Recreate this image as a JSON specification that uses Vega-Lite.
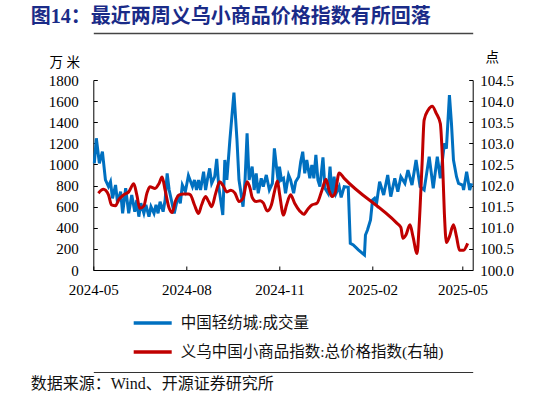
{
  "$schema": "https://vega.github.io/schema/vega-lite/v6.json",
  "width": 379.4,
  "height": 190,
  "autosize": {"type": "none"},
  "padding": {"left": 93.3, "top": 80, "right": 73.3, "bottom": 138},
  "background": "white",
  "config": {
    "view": {"stroke": null},
    "font": "Liberation Serif, Noto Sans CJK SC",
    "axis": {"domainColor": "#000", "tickColor": "#000", "labelColor": "#000", "grid": false, "labelFont": "Liberation Serif", "labelFontSize": 15, "domainWidth": 1, "tickWidth": 1, "titleColor": "#000"},
    "legend": {"labelColor": "#111", "labelFont": "Liberation Serif, Noto Sans CJK SC", "labelFontSize": 15.5, "labelLimit": 0}
  },
  "datasets": {
    "blue": [
      {"date": "2024-05-02", "v": 1011}, {"date": "2024-05-04", "v": 1248}, {"date": "2024-05-07", "v": 1010}, {"date": "2024-05-10", "v": 1121},
      {"date": "2024-05-13", "v": 853}, {"date": "2024-05-16", "v": 790}, {"date": "2024-05-18", "v": 836}, {"date": "2024-05-20", "v": 679},
      {"date": "2024-05-23", "v": 805}, {"date": "2024-05-25", "v": 635}, {"date": "2024-05-28", "v": 742}, {"date": "2024-05-30", "v": 537},
      {"date": "2024-06-02", "v": 774}, {"date": "2024-06-05", "v": 537}, {"date": "2024-06-08", "v": 710}, {"date": "2024-06-11", "v": 553},
      {"date": "2024-06-13", "v": 663}, {"date": "2024-06-15", "v": 505}, {"date": "2024-06-17", "v": 632}, {"date": "2024-06-20", "v": 537},
      {"date": "2024-06-22", "v": 616}, {"date": "2024-06-25", "v": 505}, {"date": "2024-06-27", "v": 600}, {"date": "2024-06-30", "v": 537},
      {"date": "2024-07-02", "v": 616}, {"date": "2024-07-04", "v": 537}, {"date": "2024-07-06", "v": 647}, {"date": "2024-07-09", "v": 553},
      {"date": "2024-07-11", "v": 663}, {"date": "2024-07-13", "v": 916}, {"date": "2024-07-15", "v": 758}, {"date": "2024-07-20", "v": 537},
      {"date": "2024-07-24", "v": 710}, {"date": "2024-07-26", "v": 632}, {"date": "2024-07-28", "v": 805}, {"date": "2024-07-31", "v": 742},
      {"date": "2024-08-03", "v": 895}, {"date": "2024-08-07", "v": 790}, {"date": "2024-08-09", "v": 853}, {"date": "2024-08-11", "v": 758},
      {"date": "2024-08-13", "v": 853}, {"date": "2024-08-15", "v": 758}, {"date": "2024-08-18", "v": 931}, {"date": "2024-08-20", "v": 758},
      {"date": "2024-08-22", "v": 869}, {"date": "2024-08-24", "v": 963}, {"date": "2024-08-26", "v": 821}, {"date": "2024-08-29", "v": 884},
      {"date": "2024-08-31", "v": 1052}, {"date": "2024-09-02", "v": 790}, {"date": "2024-09-06", "v": 521}, {"date": "2024-09-08", "v": 1042},
      {"date": "2024-09-10", "v": 853}, {"date": "2024-09-13", "v": 1232}, {"date": "2024-09-17", "v": 1680}, {"date": "2024-09-20", "v": 1232},
      {"date": "2024-09-22", "v": 853}, {"date": "2024-09-26", "v": 600}, {"date": "2024-09-28", "v": 853}, {"date": "2024-09-30", "v": 1295},
      {"date": "2024-10-02", "v": 853}, {"date": "2024-10-05", "v": 979}, {"date": "2024-10-07", "v": 758}, {"date": "2024-10-09", "v": 916},
      {"date": "2024-10-11", "v": 727}, {"date": "2024-10-14", "v": 869}, {"date": "2024-10-16", "v": 790}, {"date": "2024-10-19", "v": 900},
      {"date": "2024-10-22", "v": 758}, {"date": "2024-10-25", "v": 821}, {"date": "2024-10-27", "v": 1153}, {"date": "2024-10-29", "v": 979},
      {"date": "2024-10-31", "v": 821}, {"date": "2024-11-01", "v": 979}, {"date": "2024-11-03", "v": 853}, {"date": "2024-11-05", "v": 869},
      {"date": "2024-11-07", "v": 727}, {"date": "2024-11-10", "v": 900}, {"date": "2024-11-12", "v": 853}, {"date": "2024-11-15", "v": 727},
      {"date": "2024-11-17", "v": 836}, {"date": "2024-11-20", "v": 884}, {"date": "2024-11-22", "v": 1026}, {"date": "2024-11-24", "v": 1121},
      {"date": "2024-11-26", "v": 916}, {"date": "2024-11-28", "v": 1042}, {"date": "2024-12-01", "v": 869}, {"date": "2024-12-03", "v": 995},
      {"date": "2024-12-05", "v": 869}, {"date": "2024-12-07", "v": 1090}, {"date": "2024-12-09", "v": 853}, {"date": "2024-12-11", "v": 790},
      {"date": "2024-12-14", "v": 1067}, {"date": "2024-12-16", "v": 774}, {"date": "2024-12-19", "v": 727}, {"date": "2024-12-21", "v": 979},
      {"date": "2024-12-23", "v": 695}, {"date": "2024-12-25", "v": 884}, {"date": "2024-12-27", "v": 727}, {"date": "2024-12-30", "v": 790},
      {"date": "2025-01-01", "v": 688}, {"date": "2025-01-04", "v": 790}, {"date": "2025-01-08", "v": 783}, {"date": "2025-01-10", "v": 253},
      {"date": "2025-01-13", "v": 237}, {"date": "2025-01-18", "v": 190}, {"date": "2025-01-24", "v": 142}, {"date": "2025-01-25", "v": 332},
      {"date": "2025-01-27", "v": 379}, {"date": "2025-01-30", "v": 474}, {"date": "2025-02-01", "v": 663}, {"date": "2025-02-03", "v": 679},
      {"date": "2025-02-05", "v": 632}, {"date": "2025-02-08", "v": 836}, {"date": "2025-02-12", "v": 710}, {"date": "2025-02-16", "v": 900},
      {"date": "2025-02-19", "v": 695}, {"date": "2025-02-23", "v": 869}, {"date": "2025-02-26", "v": 742}, {"date": "2025-03-01", "v": 884},
      {"date": "2025-03-05", "v": 821}, {"date": "2025-03-08", "v": 947}, {"date": "2025-03-12", "v": 805}, {"date": "2025-03-16", "v": 1042},
      {"date": "2025-03-20", "v": 790}, {"date": "2025-03-24", "v": 758}, {"date": "2025-03-29", "v": 1074}, {"date": "2025-04-02", "v": 774},
      {"date": "2025-04-06", "v": 1074}, {"date": "2025-04-09", "v": 869}, {"date": "2025-04-13", "v": 1200}, {"date": "2025-04-15", "v": 1150},
      {"date": "2025-04-18", "v": 1658}, {"date": "2025-04-20", "v": 1390}, {"date": "2025-04-22", "v": 1042}, {"date": "2025-04-25", "v": 884},
      {"date": "2025-04-27", "v": 821}, {"date": "2025-05-01", "v": 805}, {"date": "2025-05-02", "v": 758}, {"date": "2025-05-05", "v": 931},
      {"date": "2025-05-08", "v": 758}, {"date": "2025-05-10", "v": 821}
    ],
    "red": [
      {"date": "2024-05-06", "v": 101.82}, {"date": "2024-05-11", "v": 101.91}, {"date": "2024-05-16", "v": 101.78}, {"date": "2024-05-19", "v": 101.54},
      {"date": "2024-05-23", "v": 101.52}, {"date": "2024-05-26", "v": 101.66}, {"date": "2024-05-31", "v": 101.78}, {"date": "2024-06-05", "v": 101.85},
      {"date": "2024-06-10", "v": 102.04}, {"date": "2024-06-13", "v": 101.78}, {"date": "2024-06-16", "v": 101.46}, {"date": "2024-06-20", "v": 101.52},
      {"date": "2024-06-23", "v": 101.82}, {"date": "2024-06-26", "v": 101.97}, {"date": "2024-07-01", "v": 101.93}, {"date": "2024-07-05", "v": 102.05},
      {"date": "2024-07-08", "v": 102.2}, {"date": "2024-07-11", "v": 101.89}, {"date": "2024-07-15", "v": 101.46}, {"date": "2024-07-18", "v": 101.36},
      {"date": "2024-07-21", "v": 101.62}, {"date": "2024-07-25", "v": 101.78}, {"date": "2024-07-29", "v": 101.8}, {"date": "2024-08-03", "v": 101.8},
      {"date": "2024-08-05", "v": 101.78}, {"date": "2024-08-09", "v": 101.54}, {"date": "2024-08-13", "v": 101.34}, {"date": "2024-08-16", "v": 101.54},
      {"date": "2024-08-20", "v": 101.74}, {"date": "2024-08-23", "v": 101.62}, {"date": "2024-08-26", "v": 101.5}, {"date": "2024-08-30", "v": 101.82},
      {"date": "2024-09-03", "v": 102.09}, {"date": "2024-09-06", "v": 102.01}, {"date": "2024-09-10", "v": 101.85}, {"date": "2024-09-14", "v": 101.89},
      {"date": "2024-09-18", "v": 101.82}, {"date": "2024-09-22", "v": 101.62}, {"date": "2024-09-26", "v": 101.7}, {"date": "2024-09-30", "v": 102.09},
      {"date": "2024-10-03", "v": 101.93}, {"date": "2024-10-05", "v": 101.72}, {"date": "2024-10-09", "v": 101.62}, {"date": "2024-10-13", "v": 101.64},
      {"date": "2024-10-16", "v": 101.59}, {"date": "2024-10-20", "v": 101.4}, {"date": "2024-10-24", "v": 101.54}, {"date": "2024-10-27", "v": 101.85},
      {"date": "2024-10-30", "v": 102.11}, {"date": "2024-11-01", "v": 101.82}, {"date": "2024-11-05", "v": 101.3}, {"date": "2024-11-08", "v": 101.54},
      {"date": "2024-11-12", "v": 101.78}, {"date": "2024-11-16", "v": 101.58}, {"date": "2024-11-21", "v": 101.4}, {"date": "2024-11-25", "v": 101.32},
      {"date": "2024-11-29", "v": 101.44}, {"date": "2024-12-03", "v": 101.54}, {"date": "2024-12-08", "v": 101.58}, {"date": "2024-12-13", "v": 101.89},
      {"date": "2024-12-17", "v": 102.15}, {"date": "2024-12-20", "v": 101.89}, {"date": "2024-12-23", "v": 101.74}, {"date": "2024-12-26", "v": 101.82},
      {"date": "2024-12-30", "v": 102.3}, {"date": "2025-01-04", "v": 102.17}, {"date": "2025-02-25", "v": 101.11}, {"date": "2025-03-01", "v": 101.01},
      {"date": "2025-03-03", "v": 100.75}, {"date": "2025-03-06", "v": 100.83}, {"date": "2025-03-10", "v": 101.07}, {"date": "2025-03-13", "v": 100.79},
      {"date": "2025-03-17", "v": 100.39}, {"date": "2025-03-19", "v": 101.03}, {"date": "2025-03-22", "v": 102.53}, {"date": "2025-03-24", "v": 103.55},
      {"date": "2025-03-28", "v": 103.79}, {"date": "2025-04-01", "v": 103.88}, {"date": "2025-04-05", "v": 103.71}, {"date": "2025-04-09", "v": 103.47},
      {"date": "2025-04-11", "v": 102.68}, {"date": "2025-04-13", "v": 101.34}, {"date": "2025-04-15", "v": 100.65}, {"date": "2025-04-18", "v": 100.79},
      {"date": "2025-04-22", "v": 101.07}, {"date": "2025-04-25", "v": 100.79}, {"date": "2025-04-28", "v": 100.47}, {"date": "2025-05-02", "v": 100.47},
      {"date": "2025-05-06", "v": 100.63}
    ]
  },
  "resolve": {
    "scale": {"y": "independent", "color": "independent"},
    "axis": {"x": "independent"},
    "legend": {"color": "independent"}
  },
  "layer": [
    {
      "data": {"name": "blue"},
      "mark": {"type": "line", "strokeWidth": 3},
      "encoding": {
        "x": {
          "field": "date", "type": "temporal",
          "scale": {"type": "utc", "nice": false, "domain": [{"year": 2024, "month": 5, "date": 1, "utc": true}, {"year": 2025, "month": 5, "date": 11, "utc": true}]},
          "axis": {
            "orient": "bottom", "title": null, "format": "%Y-%m", "tickSize": -4, "labelPadding": 16, "labelAlign": "center",
            "values": [{"year": 2024, "month": 5, "date": 1, "utc": true}, {"year": 2024, "month": 8, "date": 1, "utc": true}, {"year": 2024, "month": 11, "date": 1, "utc": true}, {"year": 2025, "month": 2, "date": 1, "utc": true}, {"year": 2025, "month": 5, "date": 1, "utc": true}]
          }
        },
        "y": {
          "field": "v", "type": "quantitative",
          "scale": {"domain": [0, 1800], "nice": false},
          "axis": {
            "orient": "left", "values": [0, 200, 400, 600, 800, 1000, 1200, 1400, 1600, 1800], "format": "d", "tickSize": -4, "labelPadding": 19,
            "title": "万 米", "titleAngle": 0, "titleX": -29, "titleY": -18, "titleFontSize": 13.5, "titleFontWeight": "normal",
            "titleAlign": "center", "titleBaseline": "middle", "titleFont": "Liberation Serif, Noto Sans CJK SC"
          }
        },
        "color": {
          "datum": "中国轻纺城:成交量", "type": "nominal",
          "scale": {"range": ["#0070c0"]},
          "legend": {"orient": "none", "legendX": 38.4, "legendY": 222, "symbolType": "stroke", "symbolSize": 1444, "symbolStrokeWidth": 3.5, "labelOffset": 7, "labelLimit": 0, "title": null, "padding": 0}
        }
      }
    },
    {
      "data": {"name": "red"},
      "mark": {"type": "line", "strokeWidth": 3, "interpolate": "monotone"},
      "encoding": {
        "x": {
          "field": "date", "type": "temporal",
          "axis": {
            "orient": "top", "offset": 47, "ticks": false, "labels": false, "domainColor": "#444", "domainWidth": 1.5,
            "title": "图14：最近两周义乌小商品价格指数有所回落", "titleX": -63, "titleY": -17, "titleAlign": "left", "titleAnchor": "start",
            "titleBaseline": "middle", "titleFontSize": 20, "titleFontWeight": "bold", "titleColor": "#1a2b88", "titleFont": "Liberation Serif, Noto Sans CJK SC"
          }
        },
        "y": {
          "field": "v", "type": "quantitative",
          "scale": {"domain": [100, 104.5], "nice": false, "zero": false},
          "axis": {
            "orient": "right", "values": [100, 100.5, 101, 101.5, 102, 102.5, 103, 103.5, 104, 104.5], "format": ".1f", "tickSize": -4, "labelPadding": 11,
            "title": "点", "titleAngle": 0, "titleX": 19, "titleY": -23, "titleFontSize": 13.5, "titleFontWeight": "normal",
            "titleAlign": "center", "titleBaseline": "middle", "titleFont": "Liberation Serif, Noto Sans CJK SC"
          }
        },
        "color": {
          "datum": "义乌中国小商品指数:总价格指数(右轴)", "type": "nominal",
          "scale": {"range": ["#c00000"]},
          "legend": {"orient": "none", "legendX": 38.4, "legendY": 251, "symbolType": "stroke", "symbolSize": 1444, "symbolStrokeWidth": 3.5, "labelOffset": 7, "labelLimit": 0, "title": null, "padding": 0}
        }
      }
    },
    {
      "data": {"name": "red"},
      "mark": {"type": "point", "opacity": 0},
      "encoding": {
        "x": {
          "field": "date", "type": "temporal",
          "axis": {
            "orient": "bottom", "offset": 102, "ticks": false, "labels": false, "domainColor": "#333", "domainWidth": 1.2,
            "title": "数据来源：Wind、开源证券研究所", "titleX": -63, "titleY": 11, "titleAlign": "left", "titleAnchor": "start",
            "titleBaseline": "middle", "titleFontSize": 16, "titleFontWeight": "normal", "titleColor": "#111", "titleFont": "Liberation Serif, Noto Sans CJK SC"
          }
        }
      }
    }
  ]
}
